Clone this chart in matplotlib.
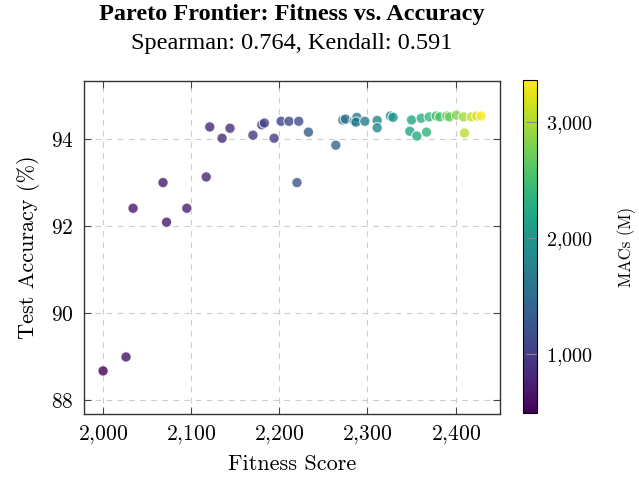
import numpy as np
import matplotlib
matplotlib.use("Agg")
import matplotlib.pyplot as plt
from matplotlib.ticker import FuncFormatter, FixedLocator

# Data
fitness = [2000, 2026, 2034, 2068, 2072, 2095, 2117, 2121, 2135, 2144,
           2170, 2180, 2183, 2194, 2202, 2211, 2222, 2220, 2233, 2264,
           2272, 2275, 2285, 2288, 2287, 2297, 2311, 2311, 2326, 2329,
           2350, 2348, 2356, 2361, 2367, 2370, 2378, 2382, 2390, 2393,
           2401, 2409, 2410, 2418, 2424, 2429]
accuracy = [88.67, 88.99, 92.41, 93.00, 92.09, 92.41, 93.13, 94.28, 94.02, 94.25,
            94.09, 94.33, 94.37, 94.02, 94.41, 94.41, 94.41, 93.00, 94.16, 93.86,
            94.44, 94.46, 94.42, 94.50, 94.39, 94.41, 94.43, 94.26, 94.53, 94.50,
            94.44, 94.18, 94.07, 94.48, 94.16, 94.51, 94.53, 94.51, 94.53, 94.51,
            94.55, 94.51, 94.14, 94.51, 94.53, 94.53]
macs = [490, 620, 650, 680, 700, 720, 760, 800, 820, 850,
        950, 1000, 1050, 1000, 1100, 1120, 1150, 1250, 1300, 1450,
        1550, 1580, 1620, 1650, 1650, 1720, 1800, 1820, 1950, 1980,
        2200, 2180, 2250, 2300, 2350, 2400, 2500, 2550, 2650, 2700,
        2800, 2950, 3050, 3100, 3200, 3360]

x_ticks = [2000, 2100, 2200, 2300, 2400]
y_ticks = [88, 90, 92, 94]
cbar_ticks = [1000, 2000, 3000]

plt.rcParams['mathtext.fontset'] = 'cm'


def thousands(v, p):
    return r'$%d{,}%03d$' % (v // 1000, v % 1000)


fig = plt.figure(figsize=(6.39, 4.78), dpi=100)
ax = fig.add_axes([0.131, 0.134, 0.651, 0.696])
cax = fig.add_axes([0.819, 0.136, 0.022, 0.696])

sc = ax.scatter(fitness, accuracy, c=macs, cmap='viridis', s=55, alpha=0.8,
                edgecolors='white', linewidths=0.8, zorder=3)

ax.set_xlim(1978, 2450)
ax.set_ylim(87.68, 95.33)
ax.xaxis.set_major_locator(FixedLocator(x_ticks))
ax.yaxis.set_major_locator(FixedLocator(y_ticks))
ax.xaxis.set_major_formatter(FuncFormatter(thousands))
ax.yaxis.set_major_formatter(FuncFormatter(lambda v, p: r'$%d$' % v))
ax.tick_params(direction='in', top=True, right=True, length=5, width=0.8,
               color='#444444', labelsize=15.5, pad=7)
ax.grid(True, linestyle=(0, (5, 5)), color='#cccccc', linewidth=0.8, zorder=0)
for s in ax.spines.values():
    s.set_color('#333333')
    s.set_linewidth(1.0)

ax.set_xlabel('Fitness Score', fontfamily='cmr10', fontsize=16, labelpad=6)
ax.set_ylabel('Test Accuracy (%)', fontfamily='cmr10', fontsize=16, labelpad=8)

fig.text(0.457, 0.970, 'Pareto Frontier: Fitness vs. Accuracy', ha='center', va='center',
         fontfamily='Liberation Serif', fontweight='bold', fontsize=17.5)
fig.text(0.457, 0.910, 'Spearman: 0.764, Kendall: 0.591', ha='center', va='center',
         fontfamily='Liberation Serif', fontsize=17.5)

cb = fig.colorbar(sc, cax=cax)
cb.solids.set_alpha(1)
cb.set_ticks(cbar_ticks)
cb.ax.yaxis.set_major_formatter(FuncFormatter(thousands))
cb.ax.tick_params(direction='in', length=8, width=0.8, color='#888888', labelsize=14.5, pad=6)
cb.outline.set_linewidth(0.8)
cb.set_label('MACs (M)', fontfamily='cmr10', fontsize=12, labelpad=18)

fig.savefig('out.png', dpi=100)
